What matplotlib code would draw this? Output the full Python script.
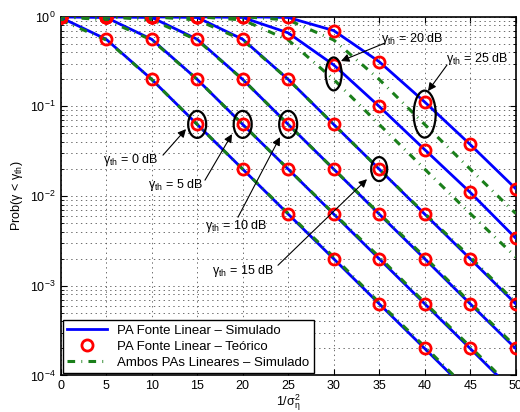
import numpy as np
import matplotlib.pyplot as plt
from matplotlib.patches import Ellipse

plt.rcParams['font.family'] = ['Liberation Sans', 'DejaVu Sans']
plt.rcParams['mathtext.fontset'] = 'custom'
plt.rcParams['mathtext.rm'] = 'Liberation Sans'
plt.rcParams['mathtext.it'] = 'Liberation Sans'
plt.rcParams['lines.scale_dashes'] = False

# 1/sigma_n^2 axis
snr = np.array([0, 5, 10, 15, 20, 25, 30, 35, 40, 45, 50])

# PA Fonte Linear (simulado / teorico), one list per gamma_th
pa_0 = [0.98, 0.56, 0.2, 0.063, 0.02, 0.0063, 0.002, 6.3e-4, 2e-4, 6.3e-5, 2e-5]
pa_5 = [1, 0.98, 0.56, 0.2, 0.063, 0.02, 0.0063, 0.002, 6.3e-4, 2e-4, 6.3e-5]
pa_10 = [1, 1, 0.98, 0.56, 0.2, 0.063, 0.02, 0.0063, 0.002, 6.3e-4, 2e-4]
pa_15 = [1, 1, 1, 0.98, 0.56, 0.2, 0.063, 0.02, 0.0063, 0.002, 6.3e-4]
pa_20 = [1, 1, 1, 1, 0.98, 0.66, 0.29, 0.10, 0.033, 0.011, 0.0034]
pa_25 = [1, 1, 1, 1, 1, 0.98, 0.70, 0.315, 0.112, 0.0376, 0.0121]

# Ambos PAs Lineares (simulado)
lin_0 = [0.92, 0.55, 0.2, 0.063, 0.02, 0.0064, 0.0021, 6.5e-4, 2.1e-4, 6.6e-5, 2.1e-5]
lin_5 = [1, 0.92, 0.55, 0.2, 0.063, 0.02, 0.0064, 0.0021, 6.5e-4, 2.1e-4, 6.6e-5]
lin_10 = [1, 1, 0.92, 0.55, 0.2, 0.063, 0.02, 0.0064, 0.0021, 6.5e-4, 2.1e-4]
lin_15 = [1, 1, 1, 0.92, 0.55, 0.2, 0.063, 0.02, 0.0064, 0.0021, 6.5e-4]
lin_20 = [1, 1, 1, 1, 0.92, 0.55, 0.2, 0.063, 0.02, 0.0064, 0.0021]
lin_25 = [1, 1, 1, 1, 1, 0.92, 0.55, 0.2, 0.063, 0.02, 0.0064]

pa_curves = [pa_0, pa_5, pa_10, pa_15, pa_20, pa_25]
lin_curves = [lin_0, lin_5, lin_10, lin_15, lin_20, lin_25]

fig = plt.figure(figsize=(5.2, 4.12), dpi=100)
ax = fig.add_axes([0.1167, 0.0886, 0.875, 0.8709])

green = '#1a7f1a'
h_blue = h_green = h_red = None
for c in pa_curves:
    h_blue, = ax.plot(snr, c, color='#0000ff', lw=2.0, zorder=3)
for c in lin_curves:
    h_green, = ax.plot(snr, c, color=green, lw=2.2, dashes=(5.5, 4.5, 0.6, 4.5), zorder=4)
for c in pa_curves:
    h_red, = ax.plot(snr, c, 'o', ms=8, mfc='none', mec='#ff0000', mew=2.0, zorder=5)

ax.set_yscale('log')
ax.set_xlim(0, 50)
ax.set_ylim(1e-4, 1)
ax.set_xticks(np.arange(0, 51, 5))
ax.tick_params(which='both', direction='in', top=True, right=True, labelsize=9)
ax.tick_params(which='major', length=4)
ax.tick_params(which='minor', length=2)
ax.grid(True, which='major', ls=(0, (1, 2.5)), color='#555555', lw=0.6)
ax.grid(True, which='minor', axis='y', ls=(0, (1, 2.5)), color='#555555', lw=0.6)
for s in ax.spines.values():
    s.set_linewidth(1.2)

ax.set_xlabel(r'1/σ$_\mathrm{η}^\mathrm{2}$', fontsize=9, labelpad=0)
ax.set_ylabel(r'Prob(γ < γ$_\mathrm{th}$)', fontsize=9, labelpad=4)

# ellipses (axes fraction)
def frac(x, y):
    return x / 50.0, (np.log10(y) + 4) / 4.0

W, H = 455.0, 358.8
ellipses = [(15, 0.063, 18, 27), (20, 0.063, 18, 27), (25, 0.063, 18, 27),
            (35, 0.02, 16, 24), (30, 0.23, 16, 33), (40, 0.082, 22, 47)]
for x, y, w, h in ellipses:
    cx, cy = frac(x, y)
    ax.add_patch(Ellipse((cx, cy), w / W, h / H, transform=ax.transAxes,
                         fill=False, ec='k', lw=1.6, zorder=6))

def px2data(px, py):
    return (px - 60.7) / 9.1, 10 ** (-(py - 16.7) / 89.6)

notes = [('γ$_\\mathrm{th}$ = 0 dB', (103, 160), (163, 155), (186, 129)),
         ('γ$_\\mathrm{th}$ = 5 dB', (148, 185), (205, 180), (232, 134)),
         ('γ$_\\mathrm{th}$ = 10 dB', (205, 226), (238, 217), (280, 137)),
         ('γ$_\\mathrm{th}$ = 15 dB', (212, 271), (278, 265), (367, 179)),
         ('γ$_\\mathrm{th}$ = 20 dB', (381, 39), (385, 43), (341, 61)),
         ('γ$_\\mathrm{th}$ = 25 dB', (446, 59), (447, 65), (428, 91))]
for txt, tpos, a0, a1 in notes:
    ax.text(*px2data(*tpos), txt, fontsize=9, ha='left', va='center', zorder=7)
    ax.annotate('', xy=px2data(*a1), xytext=px2data(*a0),
                arrowprops=dict(arrowstyle='-|>', color='k', lw=0.8,
                                mutation_scale=12, shrinkA=0, shrinkB=0),
                zorder=7)

leg = ax.legend([h_blue, h_red, h_green],
                ['PA Fonte Linear – Simulado', 'PA Fonte Linear – Teórico',
                 'Ambos PAs Lineares – Simulado'],
                loc='lower left', fontsize=9.5, fancybox=False, framealpha=1,
                edgecolor='k', borderaxespad=0.2, handlelength=3.0,
                borderpad=0.3, labelspacing=0.3)
leg.get_frame().set_linewidth(1.0)

fig.savefig('out.png', dpi=100)
